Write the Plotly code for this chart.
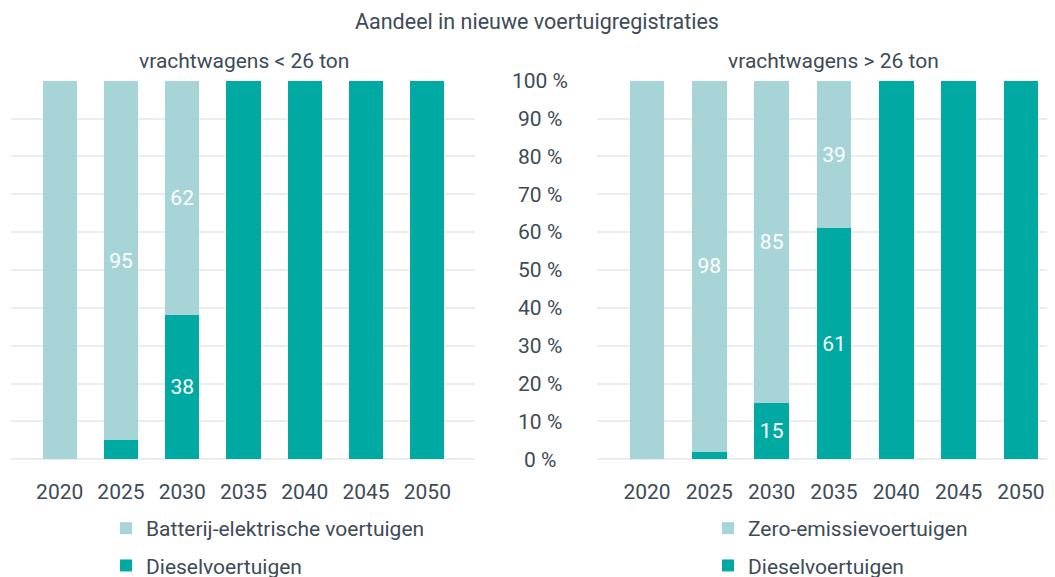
import plotly.graph_objects as go

# ── Data ─────────────────────────────────────────────────────────
years = ["2020", "2025", "2030", "2035", "2040", "2045", "2050"]

# vrachtwagens < 26 ton
light_bev = [100, 95, 62, 0, 0, 0, 0]
light_diesel = [0, 5, 38, 100, 100, 100, 100]

# vrachtwagens > 26 ton
heavy_zev = [100, 98, 85, 39, 0, 0, 0]
heavy_diesel = [0, 2, 15, 61, 100, 100, 100]

y_ticks = [0, 10, 20, 30, 40, 50, 60, 70, 80, 90, 100]
# pad shorter labels so they look centred like the original
y_ticktext = [f"{v} %" + "\u2008" * (3 - len(str(v))) for v in y_ticks]

TITLE = "Aandeel in nieuwe voertuigregistraties"
SUB_LEFT = "vrachtwagens &lt; 26 ton"
SUB_RIGHT = "vrachtwagens &gt; 26 ton"

C_LIGHT = "#a7d5d7"
C_DARK = "#00a9a1"
TXT = "#3d4b57"
GRID = "#e8edf0"
FONT = "Roboto, sans-serif"
FS = 21


def labels(vals):
    # only the values the original shows inside the bars
    return [str(v) if 10 <= v < 100 else "" for v in vals]


fig = go.Figure()

def add_bar(vals, name, color, xa, ya, legend, rank):
    fig.add_trace(go.Bar(
        x=years, y=vals, name=name,
        marker=dict(color=color, line_width=0),
        text=labels(vals), textposition="inside", insidetextanchor="middle",
        textfont=dict(color="white", size=FS, family=FONT),
        xaxis=xa, yaxis=ya, legend=legend, legendrank=rank,
        legendgroup=f"{legend}-{rank}",
        hovertemplate="%{x}: %{y}%<extra>" + name + "</extra>",
    ))

add_bar(light_diesel, "Dieselvoertuigen", C_DARK, "x", "y", "legend", 2)
add_bar(light_bev, "Batterij-elektrische voertuigen", C_LIGHT, "x", "y", "legend", 1)
add_bar(heavy_diesel, "Dieselvoertuigen", C_DARK, "x2", "y2", "legend2", 2)
add_bar(heavy_zev, "Zero-emissievoertuigen", C_LIGHT, "x2", "y2", "legend2", 1)

W, H = 1055, 577
OFF = 8  # the page body adds an 8px margin
y_dom = [(H - (459.3 - OFF)) / H, (H - (80.7 - OFF)) / H]

xcommon = dict(
    type="category", showgrid=False, zeroline=False, showline=False,
    ticks="", tickfont=dict(size=FS, color=TXT, family=FONT),
    ticklabelstandoff=18, fixedrange=True, automargin=False,
)
ycommon = dict(
    range=[0, 100], tickvals=y_ticks, showgrid=True, gridcolor=GRID,
    gridwidth=2, zeroline=True, zerolinecolor=GRID, zerolinewidth=2,
    showline=False, fixedrange=True, automargin=False,
)

legcommon = dict(
    orientation="v", xanchor="left", yanchor="top",
    font=dict(size=FS, color=TXT, family=FONT),
    bgcolor="rgba(0,0,0,0)", tracegroupgap=7,
)

fig.update_layout(
    width=W, height=H,
    barmode="stack", bargap=0.44,
    paper_bgcolor="white", plot_bgcolor="white",
    margin=dict(l=0, r=0, t=0, b=0, autoexpand=False),
    font=dict(family=FONT, size=FS, color=TXT),
    title=dict(text=TITLE, x=(537 - OFF) / W, xanchor="center", y=1 - 13 / H,
               yanchor="middle", automargin=False,
               font=dict(size=21.5, color=TXT, family=FONT)),
    xaxis=dict(xcommon, domain=[(11 - OFF) / W, (475 - OFF) / W],
               range=[-0.795, 6.778], anchor="y"),
    yaxis=dict(ycommon, domain=y_dom, showticklabels=False, anchor="x"),
    xaxis2=dict(xcommon, domain=[(597 - OFF) / W, (1055 - OFF) / W],
                range=[-0.802, 6.546], anchor="y2"),
    yaxis2=dict(ycommon, domain=y_dom, anchor="x2", ticktext=y_ticktext,
                tickfont=dict(size=FS, color=TXT, family=FONT),
                ticklabelstandoff=28),
    legend=dict(legcommon, x=98 / W, y=1 - 500 / H),
    legend2=dict(legcommon, x=700 / W, y=1 - 500 / H),
    annotations=[
        dict(text=SUB_LEFT, x=3, xref="x", y=1 - (61 - OFF) / H, yref="paper",
             showarrow=False, yanchor="middle", font=dict(size=FS, color=TXT)),
        dict(text=SUB_RIGHT, x=3, xref="x2", y=1 - (61 - OFF) / H, yref="paper",
             showarrow=False, yanchor="middle", font=dict(size=FS, color=TXT)),
    ],
)

fig.write_html("out.html")
